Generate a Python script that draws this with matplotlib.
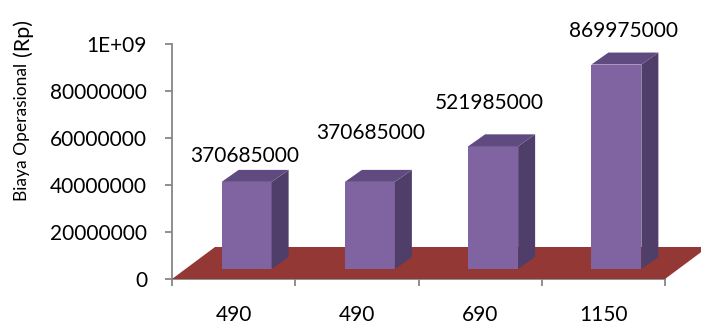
import matplotlib
matplotlib.use("Agg")
import matplotlib.pyplot as plt
from matplotlib.patches import Polygon
import numpy as np

categories = ['490', '490', '690', '1150']
biaya = [370685000, 370685000, 521985000, 869975000]
value_labels = ['370685000', '370685000', '521985000', '869975000']
ytick_vals = [0, 200000000, 400000000, 600000000, 800000000, 1000000000]
ytick_labels = ['0', '20000000', '40000000', '60000000', '80000000', '1E+09']

plt.rcParams['font.family'] = ['Lato', 'DejaVu Sans']

W, H = 701, 330
fig = plt.figure(figsize=(W / 100, H / 100), dpi=100)
# axes box in pixels: left 172, right 665, y=0 at 279, top at 44
ax = fig.add_axes([172 / W, (H - 279) / H, 493 / W, 235 / H])
ax.set_xlim(0, len(categories))
ax.set_ylim(0, 1e9)

px_x = len(categories) / 493.0   # data units per pixel
px_y = 1e9 / 235.0

c_front = '#8064a2'
c_side = '#4f3e69'
c_top = '#5f4b80'
c_floor = '#943835'

# floor
fdx, fdy = 43 * px_x, 32 * px_y
floor = Polygon([(0, 0), (len(categories), 0),
                 (len(categories) + fdx, fdy), (fdx, fdy)],
                closed=True, facecolor=c_floor, edgecolor='none',
                clip_on=False, zorder=1)
ax.add_patch(floor)

# bars
bw = 50 * px_x
sx, sy = 13 * px_x, 10 * px_y       # depth shift of front face
dx, dy = 17 * px_x, 12 * px_y       # bar depth
label_dy = [26, 49, 43, 34]         # label offsets above front top (px)
label_dx = [-2, 1, -4, 7]
for i, v in enumerate(biaya):
    xl = i + 0.5 - 25 * px_x + sx
    xr = xl + bw
    b = sy
    t = sy + v
    ax.add_patch(Polygon([(xl, b), (xr, b), (xr, t), (xl, t)],
                         facecolor=c_front, edgecolor='none', zorder=3))
    ax.add_patch(Polygon([(xr, b), (xr + dx, b + dy), (xr + dx, t + dy), (xr, t)],
                         facecolor=c_side, edgecolor='none', zorder=3, clip_on=False))
    ax.add_patch(Polygon([(xl, t), (xr, t), (xr + dx, t + dy), (xl + dx, t + dy)],
                         facecolor=c_top, edgecolor='none', zorder=3, clip_on=False))
    ax.text((xl + xr) / 2 + label_dx[i] * px_x, t + label_dy[i] * px_y, value_labels[i],
            ha='center', va='center', fontsize=15, color='black', zorder=4)

for s in ['top', 'right']:
    ax.spines[s].set_visible(False)
for s in ['left', 'bottom']:
    ax.spines[s].set_color('#868686')
    ax.spines[s].set_linewidth(1.3)
    ax.spines[s].set_zorder(0.5)

ax.set_yticks(ytick_vals)
ax.set_yticklabels(ytick_labels)
ax.tick_params(axis='y', length=5, width=1.3, color='#868686', pad=13, labelsize=15)

ax.set_xticks(np.arange(len(categories) + 1))
ax.set_xticklabels([])
ax.set_xticks(np.arange(len(categories)) + 0.5, minor=True)
ax.set_xticklabels(categories, minor=True)
ax.tick_params(axis='x', which='major', length=5, width=1.3, color='#868686')
ax.tick_params(axis='x', which='minor', length=0, pad=19, labelsize=15)
ax.patch.set_visible(False)

fig.text(22 / W, 1 - 132 / H, 'Biaya Operasional', rotation=90,
         ha='center', va='center', fontsize=12.5)
fig.text(23 / W, 1 - 37 / H, '(Rp)', rotation=90,
         ha='center', va='center', fontsize=15.5)

fig.savefig('out.png', dpi=100)
